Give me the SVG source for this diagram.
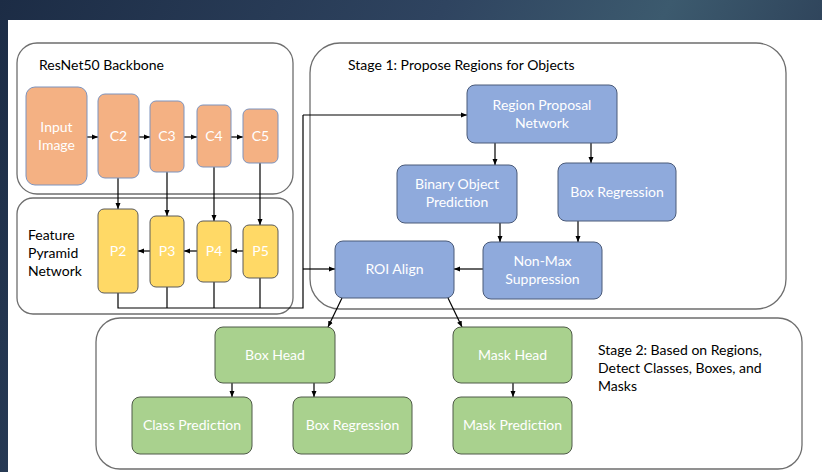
<svg xmlns="http://www.w3.org/2000/svg" width="822" height="472" viewBox="0 0 822 472">
<defs>
<linearGradient id="bg" x1="0" y1="0" x2="1" y2="0.3">
<stop offset="0" stop-color="#1c2c45"/>
<stop offset="0.5" stop-color="#2f4460"/>
<stop offset="0.75" stop-color="#3c5a6e"/>
<stop offset="1" stop-color="#2b3d55"/>
</linearGradient>
<marker id="ah" viewBox="0 0 6 6" refX="6" refY="3" markerWidth="6" markerHeight="6" markerUnits="userSpaceOnUse" orient="auto">
<path d="M0,0.5 L6,3 L0,5.5 z" fill="#000"/>
</marker>
<style>
.panel{fill:none;stroke:#6e6e6e;stroke-width:1.3}
.t{font-family:Lato,"Open Sans","Liberation Sans",sans-serif;font-size:14px;fill:#000}
.n{font-family:Lato,"Open Sans","Liberation Sans",sans-serif;font-size:14px;fill:#fff;text-anchor:middle}
.or{fill:#f4b183;stroke:#7d93bd;stroke-width:1}
.ye{fill:#ffd966;stroke:#5a5a5a;stroke-width:1}
.bl{fill:#8faadc;stroke:#4a5a78;stroke-width:1}
.gr{fill:#a9d18e;stroke:#4f5a48;stroke-width:1}
.c{fill:none;stroke:#000;stroke-width:1.2}
.a{fill:none;stroke:#000;stroke-width:1.2;marker-end:url(#ah)}
</style>
</defs>
<rect x="0" y="0" width="822" height="472" fill="url(#bg)"/>
<rect x="8" y="20" width="814" height="452" fill="#fff"/>

<g id="panels">
<rect class="panel" x="17" y="43" width="276" height="151" rx="20"/>
<rect class="panel" x="17" y="198" width="276" height="116" rx="16"/>
<rect class="panel" x="310" y="43" width="476" height="266" rx="30"/>
<rect class="panel" x="96" y="318" width="706" height="151" rx="24"/>
<text class="t" x="39" y="70">ResNet50 Backbone</text>
<text class="t" x="28" y="240">Feature</text>
<text class="t" x="28" y="258">Pyramid</text>
<text class="t" x="28" y="276">Network</text>
<text class="t" x="348" y="70">Stage 1: Propose Regions for Objects</text>
<text class="t" x="598" y="355">Stage 2: Based on Regions,</text>
<text class="t" x="598" y="373">Detect Classes, Boxes, and</text>
<text class="t" x="598" y="391">Masks</text>
</g>

<g id="connectors">
<line class="a" x1="87" y1="137" x2="98" y2="137"/>
<line class="a" x1="139" y1="137" x2="150" y2="137"/>
<line class="a" x1="184" y1="137" x2="197" y2="137"/>
<line class="a" x1="231" y1="137" x2="243" y2="137"/>
<line class="a" x1="118" y1="178" x2="118" y2="209"/>
<line class="a" x1="167" y1="172" x2="167" y2="216"/>
<line class="a" x1="214" y1="167" x2="214" y2="221"/>
<line class="a" x1="260" y1="163" x2="260" y2="225"/>
<line class="a" x1="243" y1="251" x2="231" y2="251"/>
<line class="a" x1="197" y1="251" x2="184" y2="251"/>
<line class="a" x1="150" y1="251" x2="138" y2="251"/>
<polyline class="c" points="118,293 118,308 303,308 303,115"/>
<line class="c" x1="167" y1="287" x2="167" y2="308"/>
<line class="c" x1="214" y1="282" x2="214" y2="308"/>
<line class="c" x1="260" y1="278" x2="260" y2="308"/>
<line class="a" x1="303" y1="115" x2="467" y2="115"/>
<line class="a" x1="303" y1="269" x2="335" y2="269"/>
<line class="a" x1="495" y1="143" x2="495" y2="165"/>
<line class="a" x1="591" y1="143" x2="591" y2="163"/>
<line class="a" x1="500" y1="223" x2="500" y2="242"/>
<line class="a" x1="578" y1="221" x2="578" y2="242"/>
<line class="a" x1="483" y1="269" x2="454" y2="269"/>
<line class="a" x1="342" y1="298" x2="328" y2="327"/>
<line class="a" x1="448" y1="298" x2="462" y2="327"/>
<line class="a" x1="232" y1="383" x2="232" y2="397"/>
<line class="a" x1="314" y1="383" x2="314" y2="397"/>
<line class="a" x1="513" y1="383" x2="513" y2="397"/>
</g>

<g id="input"><rect class="or" x="26" y="87" width="61" height="98" rx="9"/><text class="n" x="56.5" y="132">Input</text><text class="n" x="56.5" y="150">Image</text></g>
<g id="c2"><rect class="or" x="98" y="94" width="41" height="84" rx="7"/><text class="n" x="118.5" y="141">C2</text></g>
<g id="c3"><rect class="or" x="150" y="101" width="34" height="71" rx="6"/><text class="n" x="167" y="141">C3</text></g>
<g id="c4"><rect class="or" x="197" y="105" width="34" height="62" rx="6"/><text class="n" x="214" y="141">C4</text></g>
<g id="c5"><rect class="or" x="243" y="109" width="35" height="54" rx="6"/><text class="n" x="260.5" y="141">C5</text></g>

<g id="p2"><rect class="ye" x="98" y="209" width="40" height="84" rx="6"/><text class="n" x="118" y="256">P2</text></g>
<g id="p3"><rect class="ye" x="150" y="216" width="34" height="71" rx="6"/><text class="n" x="167" y="256">P3</text></g>
<g id="p4"><rect class="ye" x="197" y="221" width="34" height="61" rx="6"/><text class="n" x="214" y="256">P4</text></g>
<g id="p5"><rect class="ye" x="243" y="225" width="35" height="53" rx="6"/><text class="n" x="260.5" y="256">P5</text></g>

<g id="rpn"><rect class="bl" x="467" y="85" width="150" height="58" rx="8"/><text class="n" x="542" y="110">Region Proposal</text><text class="n" x="542" y="128">Network</text></g>
<g id="binary"><rect class="bl" x="397" y="165" width="120" height="58" rx="8"/><text class="n" x="457" y="189">Binary Object</text><text class="n" x="457" y="207">Prediction</text></g>
<g id="boxreg1"><rect class="bl" x="558" y="163" width="118" height="58" rx="8"/><text class="n" x="617" y="197">Box Regression</text></g>
<g id="nms"><rect class="bl" x="483" y="242" width="119" height="57" rx="8"/><text class="n" x="542.5" y="266">Non-Max</text><text class="n" x="542.5" y="284">Suppression</text></g>
<g id="roi"><rect class="bl" x="335" y="241" width="119" height="57" rx="8"/><text class="n" x="394.5" y="274">ROI Align</text></g>

<g id="boxhead"><rect class="gr" x="215" y="327" width="120" height="56" rx="8"/><text class="n" x="275" y="360">Box Head</text></g>
<g id="classpred"><rect class="gr" x="132" y="397" width="120" height="57" rx="8"/><text class="n" x="192" y="430">Class Prediction</text></g>
<g id="boxreg2"><rect class="gr" x="293" y="397" width="119" height="57" rx="8"/><text class="n" x="352.5" y="430">Box Regression</text></g>
<g id="maskhead"><rect class="gr" x="453" y="327" width="119" height="56" rx="8"/><text class="n" x="512.5" y="360">Mask Head</text></g>
<g id="maskpred"><rect class="gr" x="453" y="397" width="119" height="57" rx="8"/><text class="n" x="512.5" y="430">Mask Prediction</text></g>
</svg>
